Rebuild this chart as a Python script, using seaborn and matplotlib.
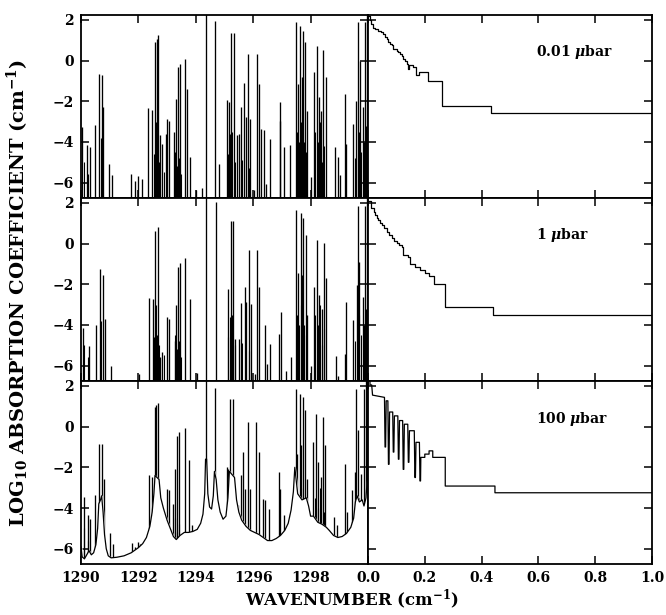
import matplotlib
matplotlib.use('Agg')
import matplotlib.pyplot as plt
import seaborn as sns

# Line centres (cm-1) and peak log10 k
lines_001_x = [1290.05, 1290.22, 1290.30, 1290.48, 1290.63, 1290.73, 1290.78, 1290.98, 1291.08, 1291.74,
               1291.88, 1292.00, 1292.13, 1292.35, 1292.48, 1292.58, 1292.64, 1292.69, 1292.76, 1292.82,
               1292.95, 1292.99, 1293.08, 1293.24, 1293.30, 1293.37, 1293.45, 1293.64, 1293.71, 1293.80,
               1294.02, 1294.23, 1294.35, 1294.67, 1294.82, 1295.08, 1295.16, 1295.23, 1295.33, 1295.43,
               1295.50, 1295.58, 1295.68, 1295.74, 1295.81, 1295.90, 1296.04, 1296.13, 1296.21, 1296.28,
               1296.36, 1296.44, 1296.57, 1296.92, 1296.95, 1297.09, 1297.29, 1297.49, 1297.56, 1297.64,
               1297.69, 1297.74, 1297.82, 1297.88, 1298.00, 1298.12, 1298.21, 1298.29, 1298.37, 1298.44,
               1298.53, 1298.85, 1298.94, 1299.03, 1299.20, 1299.25, 1299.47, 1299.59, 1299.64, 1299.71,
               1299.81, 1299.89, 1299.96]
lines_001_k = [-3.27, -4.17, -4.25, -3.19, -0.66, -0.69, -2.29, -5.07, -5.61, -5.59,
               -5.92, -5.67, -5.80, -2.34, -2.41, 0.89, 1.05, 1.25, -3.68, -4.09,
               -3.60, -2.87, -2.95, -3.52, -1.89, -0.33, -0.17, 0.07, -1.40, -4.74,
               -6.38, -6.29, 2.30, 1.92, -5.10, -1.93, -2.05, 1.35, 1.35, -3.68,
               -3.60, -2.29, -1.12, -2.78, 0.32, -2.87, -6.38, 0.32, -1.15, -3.36,
               -3.44, -6.05, -3.84, -2.05, -2.95, -4.25, -4.17, 1.87, -1.15, 1.71,
               -0.82, 1.46, 0.89, -2.46, -5.72, -0.58, 0.73, -1.80, -2.46, 0.51,
               -0.82, -4.25, -4.74, -5.64, -1.64, -4.09, -3.11, -1.97, 1.87, 0.00,
               -2.29, 1.87, 2.30]

lines_1_x = [1290.08, 1290.28, 1290.51, 1290.66, 1290.75, 1290.82, 1291.03, 1292.03, 1292.38, 1292.51,
             1292.59, 1292.67, 1292.76, 1292.82, 1293.00, 1293.08, 1293.26, 1293.31, 1293.37, 1293.45,
             1293.64, 1293.81, 1294.04, 1294.37, 1294.69, 1295.12, 1295.22, 1295.31, 1295.38, 1295.50,
             1295.59, 1295.70, 1295.76, 1295.84, 1295.92, 1296.05, 1296.14, 1296.21, 1296.40, 1296.47,
             1296.59, 1296.90, 1296.96, 1297.13, 1297.31, 1297.48, 1297.56, 1297.65, 1297.69, 1297.75,
             1297.83, 1297.89, 1298.01, 1298.13, 1298.22, 1298.30, 1298.39, 1298.48, 1298.54, 1298.88,
             1298.96, 1299.21, 1299.25, 1299.49, 1299.60, 1299.65, 1299.70, 1299.81, 1299.90, 1299.95]
lines_1_k = [-4.16, -5.05, -4.02, -1.25, -1.55, -3.69, -6.00, -6.42, -2.67, -2.70,
             0.60, 0.84, -5.59, -5.34, -3.61, -3.69, -4.77, -3.03, -1.14, -0.97,
             -0.72, -2.70, -6.37, 2.30, 2.05, -2.21, 1.09, 1.09, -4.68, -4.68,
             -2.90, -2.13, -2.87, -0.31, -2.95, -6.42, -0.31, -2.13, -4.02, -5.92,
             -4.93, -4.44, -3.36, -6.25, -5.59, 1.67, -1.47, 1.50, -1.55, 1.26,
             0.43, -3.53, -6.00, -2.13, 0.18, -2.54, -3.20, 0.02, -1.71, -5.51,
             -6.50, -5.43, -2.87, -3.78, -2.04, 1.83, -0.89, -2.62, 1.83, 2.30]

lines_100_x = [1290.09, 1290.26, 1290.32, 1290.50, 1290.64, 1290.73, 1290.81, 1291.02, 1291.10, 1291.76,
               1291.88, 1291.97, 1292.06, 1292.36, 1292.49, 1292.59, 1292.63, 1292.68, 1292.78, 1292.84,
               1292.98, 1293.05, 1293.21, 1293.27, 1293.35, 1293.43, 1293.63, 1293.77, 1293.86, 1294.36,
               1294.68, 1295.07, 1295.13, 1295.20, 1295.30, 1295.41, 1295.48, 1295.57, 1295.65, 1295.72,
               1295.82, 1295.89, 1296.11, 1296.21, 1296.35, 1296.40, 1296.55, 1296.89, 1296.94, 1297.08,
               1297.27, 1297.48, 1297.54, 1297.62, 1297.68, 1297.74, 1297.82, 1297.89, 1298.00, 1298.10,
               1298.19, 1298.26, 1298.35, 1298.43, 1298.50, 1298.83, 1298.91, 1298.99, 1299.20, 1299.26,
               1299.43, 1299.55, 1299.59, 1299.66, 1299.77, 1299.86, 1299.93]
lines_100_k = [-3.46, -4.33, -4.52, -3.34, -0.84, -0.87, -2.56, -5.21, -5.75, -5.72,
               -5.92, -5.67, -5.75, -2.39, -2.48, 0.97, 1.05, 1.18, -3.87, -4.20,
               -3.05, -3.13, -3.79, -2.07, -0.46, -0.26, -0.07, -1.66, -4.85, 2.30,
               1.90, -1.98, -2.07, 1.34, 1.34, -3.79, -3.87, -2.39, -1.25, -3.05,
               0.23, -3.05, 0.23, -1.25, -3.54, -3.62, -4.03, -2.23, -3.05, -4.36,
               -4.28, 1.84, -1.33, 1.62, -0.92, 1.46, 0.80, -2.56, -5.84, -0.75,
               0.64, -1.74, -2.48, 0.48, -0.92, -4.44, -4.85, -5.84, -1.82, -4.20,
               -3.13, -2.23, 1.87, -0.18, -2.31, 1.87, 2.30]

# weak lines packed inside the dense clusters (rough estimates)
weak_x = [1290.10, 1290.26, 1290.70, 1292.55, 1292.62, 1292.66, 1292.72, 1292.88, 1293.27, 1293.33,
          1293.41, 1293.50, 1295.12, 1295.20, 1295.26, 1295.37, 1295.62, 1295.86, 1297.52, 1297.60,
          1297.67, 1297.78, 1297.85, 1298.16, 1298.25, 1298.33, 1298.40, 1298.48, 1299.55, 1299.68,
          1299.76, 1299.85, 1299.93]
weak_k = [-5.0, -5.6, -3.8, -4.6, -3.0, -4.5, -5.0, -5.5, -4.5, -5.2,
          -4.8, -5.6, -4.6, -3.6, -3.5, -5.0, -4.9, -5.3, -3.5, -4.0,
          -3.0, -4.0, -4.5, -3.5, -4.0, -3.0, -5.0, -4.2, -4.8, -3.5,
          -4.5, -4.0, -3.2]

# pressure-broadened continuum under the 100 ubar spectrum
wing_x = [1290.00, 1290.04, 1290.12, 1290.20, 1290.28, 1290.36, 1290.44, 1290.52, 1290.58, 1290.62,
          1290.68, 1290.72, 1290.77, 1290.82, 1290.88, 1290.95, 1291.05, 1291.25, 1291.50, 1291.75,
          1292.00, 1292.15, 1292.28, 1292.40, 1292.48, 1292.54, 1292.58, 1292.72, 1292.78, 1292.87,
          1293.00, 1293.11, 1293.22, 1293.32, 1293.45, 1293.60, 1293.75, 1293.90, 1294.05, 1294.17,
          1294.25, 1294.31, 1294.34, 1294.38, 1294.42, 1294.48, 1294.55, 1294.61, 1294.65, 1294.71,
          1294.77, 1294.85, 1294.95, 1295.05, 1295.12, 1295.17, 1295.35, 1295.42, 1295.50, 1295.60,
          1295.75, 1295.90, 1296.05, 1296.20, 1296.35, 1296.50, 1296.65, 1296.80, 1296.95, 1297.10,
          1297.22, 1297.32, 1297.40, 1297.45, 1297.55, 1297.70, 1297.85, 1297.93, 1298.00, 1298.10,
          1298.25, 1298.40, 1298.55, 1298.65, 1298.80, 1298.95, 1299.10, 1299.25, 1299.40, 1299.50,
          1299.56, 1299.62, 1299.70, 1299.80, 1299.86, 1299.93, 1300.00]
wing_k = [-5.9, -6.4, -6.5, -6.3, -6.1, -6.3, -6.2, -5.8, -5.0, -3.8,
          -3.6, -3.4, -4.2, -5.3, -6.0, -6.35, -6.45, -6.42, -6.35, -6.2,
          -5.95, -5.75, -5.45, -4.9, -4.2, -3.3, -2.4, -2.6, -3.5, -4.0,
          -4.6, -5.0, -5.4, -5.55, -5.35, -5.2, -5.2, -5.15, -5.05, -4.75,
          -4.3, -3.3, -1.6, -1.6, -3.3, -3.95, -4.05, -3.4, -2.2, -2.6,
          -3.6, -4.2, -4.55, -4.4, -3.5, -2.2, -2.5, -3.6, -4.2, -4.6,
          -4.9, -5.1, -5.2, -5.3, -5.45, -5.6, -5.6, -5.5, -5.35, -5.1,
          -4.75, -4.1, -3.2, -2.0, -3.3, -3.6, -3.5, -3.9, -4.4, -4.4,
          -4.7, -4.8, -4.95, -5.1, -5.35, -5.45, -5.4, -5.25, -4.95, -4.5,
          -3.7, -3.4, -3.7, -3.6, -3.9, -3.5, -2.0]

# k-distributions (cumulative fraction g vs log10 k), right-hand panels
kdist_001_g = [0.000, 0.006, 0.012, 0.016, 0.026, 0.036, 0.046, 0.054, 0.060, 0.066,
               0.072, 0.077, 0.083, 0.089, 0.101, 0.107, 0.113, 0.119, 0.124, 0.130,
               0.136, 0.140, 0.146, 0.158, 0.168, 0.180, 0.195, 0.212, 0.262, 0.432, 1.000]
kdist_001_k = [2.20, 2.00, 1.80, 1.62, 1.55, 1.46, 1.38, 1.30, 1.15, 1.06,
               0.90, 0.81, 0.75, 0.57, 0.49, 0.40, 0.33, 0.20, 0.08, -0.02,
               -0.16, -0.40, -0.20, -0.33, -0.73, -0.58, -0.55, -1.02, -2.23, -2.60, -2.60]

kdist_1_g = [0.000, 0.009, 0.012, 0.020, 0.025, 0.030, 0.036, 0.042, 0.048, 0.056,
             0.066, 0.075, 0.083, 0.092, 0.101, 0.110, 0.118, 0.124, 0.142, 0.148,
             0.165, 0.183, 0.200, 0.215, 0.232, 0.271, 0.441, 1.000]
kdist_1_k = [2.10, 2.06, 1.74, 1.55, 1.41, 1.28, 1.16, 1.03, 0.91, 0.75,
             0.58, 0.42, 0.26, 0.13, 0.01, -0.08, -0.16, -0.57, -0.65, -0.98,
             -1.15, -1.31, -1.44, -1.60, -1.97, -3.12, -3.53, -3.53]

kdist_100_g = [0.000, 0.007, 0.007, 0.013, 0.016, 0.058,
               0.060, 0.062, 0.064, 0.070, 0.072, 0.074, 0.076, 0.087,
               0.089, 0.091, 0.093, 0.105, 0.107, 0.109, 0.111, 0.122,
               0.124, 0.126, 0.128, 0.140, 0.142, 0.144, 0.146, 0.163,
               0.165, 0.167, 0.169, 0.181, 0.183, 0.185, 0.186, 0.200,
               0.200, 0.215, 0.215, 0.228, 0.228, 0.272, 0.272, 0.447, 0.447, 1.000]
kdist_100_k = [2.25, 2.25, 2.05, 2.05, 1.55, 1.44,
               -1.00, -1.00, 1.27, 1.27, -1.85, -1.85, 0.72, 0.72,
               -1.25, -1.25, 0.53, 0.53, -1.60, -1.60, 0.30, 0.30,
               -2.10, -2.10, 0.12, 0.12, -1.75, -1.75, -0.20, -0.20,
               -2.50, -2.50, -0.77, -0.77, -2.67, -2.67, -1.51, -1.51,
               -1.35, -1.35, -1.19, -1.19, -1.51, -1.51, -2.92, -2.92, -3.25, -3.25]

pressures = ['0.01 $\\mu$bar', '1 $\\mu$bar', '100 $\\mu$bar']

sns.set_style('ticks')
plt.rcParams['font.family'] = ['DejaVu Serif']
plt.rcParams['font.weight'] = 'bold'
plt.rcParams['mathtext.fontset'] = 'dejavuserif'
for key in ['text.color', 'axes.labelcolor', 'xtick.color', 'ytick.color', 'axes.edgecolor']:
    plt.rcParams[key] = 'black'

fig, axes = plt.subplots(3, 2, figsize=(6.66, 6.15), dpi=100,
                         gridspec_kw=dict(width_ratios=[287, 284], wspace=0, hspace=0,
                                          left=0.1216, right=0.979, top=0.976, bottom=0.083))

spectra = [(lines_001_x, lines_001_k), (lines_1_x, lines_1_k), (lines_100_x, lines_100_k)]
kdists = [(kdist_001_g, kdist_001_k), (kdist_1_g, kdist_1_k), (kdist_100_g, kdist_100_k)]

for i in range(3):
    axl, axr = axes[i, 0], axes[i, 1]

    # spectrum
    lx, lk = spectra[i]
    axl.vlines(lx, -7, lk, color='black', lw=0.95, zorder=1)
    axl.vlines(weak_x, -7, weak_k, color='black', lw=0.8, zorder=1)
    if i == 2:
        axl.fill_between(wing_x, -7, wing_k, color='white', zorder=2)
        sns.lineplot(x=wing_x, y=wing_k, ax=axl, color='black', lw=0.9,
                     sort=False, estimator=None, zorder=3)

    # k-distribution
    g, k = kdists[i]
    if i == 2:
        sns.lineplot(x=g, y=k, ax=axr, color='black', lw=0.9, sort=False, estimator=None)
    else:
        sns.lineplot(x=g, y=k, ax=axr, color='black', lw=0.9, sort=False, estimator=None,
                     drawstyle='steps-post')
    axr.text(0.59, 0.4, pressures[i], fontsize=10, fontweight='bold', va='center', ha='left')

    axl.set_xlim(1290, 1300)
    axr.set_xlim(0, 1)
    axl.set_xticks([1290, 1292, 1294, 1296, 1298, 1300])
    axr.set_xticks([0.0, 0.2, 0.4, 0.6, 0.8, 1.0])
    for ax in (axl, axr):
        ax.set_ylim(-6.75, 2.25)
        ax.set_yticks([-6, -4, -2, 0, 2])
        ax.set_xlabel('')
        ax.set_ylabel('')
        ax.tick_params(direction='in', top=True, right=True, length=6, width=1.1,
                       labelsize=10, pad=5)
        for s in ax.spines.values():
            s.set_linewidth(1.3)
            s.set_visible(True)
    axr.set_yticklabels([])
    if i < 2:
        axl.set_xticklabels([])
        axr.set_xticklabels([])
    else:
        axl.set_xticklabels(['1290', '1292', '1294', '1296', '1298', ''])
        axr.set_xticklabels(['0.0', '0.2', '0.4', '0.6', '0.8', '1.0'])

fig.text(0.027, 0.524, 'LOG$_{\\mathbf{10}}$ ABSORPTION COEFFICIENT (cm$^{\\mathbf{-1}}$)',
         rotation=90, ha='center', va='center', fontsize=14, fontweight='bold')
fig.text(0.529, 0.024, 'WAVENUMBER (cm$^{\\mathbf{-1}}$)',
         ha='center', va='center', fontsize=12, fontweight='bold')

plt.savefig('out.png', dpi=100)
